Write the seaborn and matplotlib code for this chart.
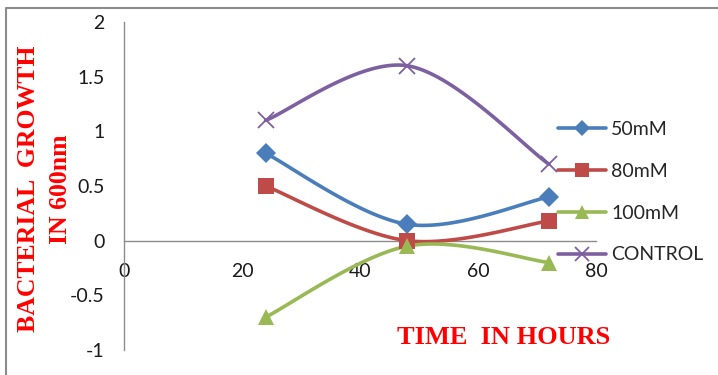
import numpy as np
import pandas as pd
import matplotlib
matplotlib.use("Agg")
import matplotlib.pyplot as plt
import seaborn as sns
from matplotlib.lines import Line2D

# Sampling times (hours) and optical density readings for each treatment
hours = [24, 48, 72]
mm50 = [0.8, 0.15, 0.4]
mm80 = [0.5, 0.0, 0.18]
mm100 = [-0.7, -0.05, -0.2]
control = [1.1, 1.6, 0.7]
series_names = ["50mM", "80mM", "100mM", "CONTROL"]
x_ticks = [0, 20, 40, 60, 80]
y_ticks = [-1, -0.5, 0, 0.5, 1, 1.5, 2]

colors = ["#4A7EBB", "#BE4B48", "#98B954", "#7D60A0"]
markers = ["D", "s", "^", "x"]
msizes = [10, 11.5, 12, 12]


def smooth_curve(xs, ys, n=40):
    """Spreadsheet-style smoothed line: cubic Bezier segments with
    Catmull-Rom control points."""
    pts = np.column_stack([xs, ys]).astype(float)
    out = []
    last = len(pts) - 1
    for i in range(last):
        p0 = pts[max(i - 1, 0)]
        p1 = pts[i]
        p2 = pts[i + 1]
        p3 = pts[min(i + 2, last)]
        c1 = p1 + (p2 - p0) / 6.0
        c2 = p2 - (p3 - p1) / 6.0
        t = np.linspace(0, 1, n)[:, None]
        seg = ((1 - t) ** 3) * p1 + 3 * ((1 - t) ** 2) * t * c1 \
            + 3 * (1 - t) * (t ** 2) * c2 + (t ** 3) * p2
        out.append(seg if i == 0 else seg[1:])
    return np.vstack(out)


sns.set_theme(style="white")
plt.rcParams["font.family"] = ["Lato", "DejaVu Sans"]
plt.rcParams["axes.unicode_minus"] = False

fig = plt.figure(figsize=(7.18, 3.75), dpi=100)
ax = fig.add_axes([124 / 718, 1 - 350 / 375, (596 - 124) / 718, (350 - 22) / 375])

values = [mm50, mm80, mm100, control]
points = pd.DataFrame({
    "hours": np.tile(hours, len(values)),
    "od": np.concatenate(values),
    "series": np.repeat(series_names, len(hours)),
})

handles = []
for name, vals, col, mk, ms in zip(series_names, values, colors, markers, msizes):
    curve = smooth_curve(hours, vals)
    sns.lineplot(x=curve[:, 0], y=curve[:, 1], sort=False, ax=ax,
                 color=col, lw=2.6, legend=False, zorder=3)
    sub = points[points["series"] == name]
    if mk == "x":
        ax.plot(sub["hours"], sub["od"], ls="none", marker=mk, ms=ms,
                mew=1.3, color=col, zorder=4)
    else:
        ax.plot(sub["hours"], sub["od"], ls="none", marker=mk, ms=ms,
                mew=0, color=col, zorder=4)
    handles.append(Line2D([], [], color=col, lw=2.6, marker=mk,
                          ms=ms * 0.85, mew=1.3 if mk == "x" else 0))

ax.set_xlim(0, 80)
ax.set_ylim(-1, 2)
ax.set_xticks(x_ticks)
ax.set_yticks(y_ticks)
ax.set_yticklabels([f"{v:g}" for v in y_ticks])
ax.set_xticklabels([f"{v:g}" for v in x_ticks])

for s in ["top", "right"]:
    ax.spines[s].set_visible(False)
ax.spines["bottom"].set_position(("data", 0))
for s in ["left", "bottom"]:
    ax.spines[s].set_color("#8C8C8C")
    ax.spines[s].set_linewidth(1.0)
ax.tick_params(axis="both", which="major", direction="out", length=5,
               width=1.0, color="#8C8C8C", labelsize=14, labelcolor="#1A1A1A")
ax.tick_params(axis="y", pad=9)
ax.tick_params(axis="x", pad=11)
ax.set_xlabel("")
ax.set_ylabel("")
ax.grid(False)

leg = fig.legend(handles, series_names, loc="upper left",
                 bbox_to_anchor=(550 / 718, 1 - 113 / 375), frameon=False,
                 fontsize=14, handlelength=2.5, labelspacing=1.28,
                 handletextpad=0.25, borderaxespad=0)

fig.text(504 / 718, 1 - 337 / 375, "TIME  IN HOURS", color="red",
         fontsize=19, fontweight="bold", family="Liberation Serif",
         ha="center", va="center")
fig.text(44.5 / 718, 1 - 189 / 375, "BACTERIAL  GROWTH\nIN 600nm", color="red",
         fontsize=18.5, fontweight="bold", family="Liberation Serif",
         ha="center", va="center", rotation=90, multialignment="center",
         linespacing=1.45)

# chart frame (top and left edges)
fig.add_artist(Line2D([6 / 718, 6 / 718, 1.0], [0.0, 1 - 8 / 375, 1 - 8 / 375],
                      transform=fig.transFigure, color="#8C8C8C", lw=1.5))

fig.savefig("out.png", dpi=100)
